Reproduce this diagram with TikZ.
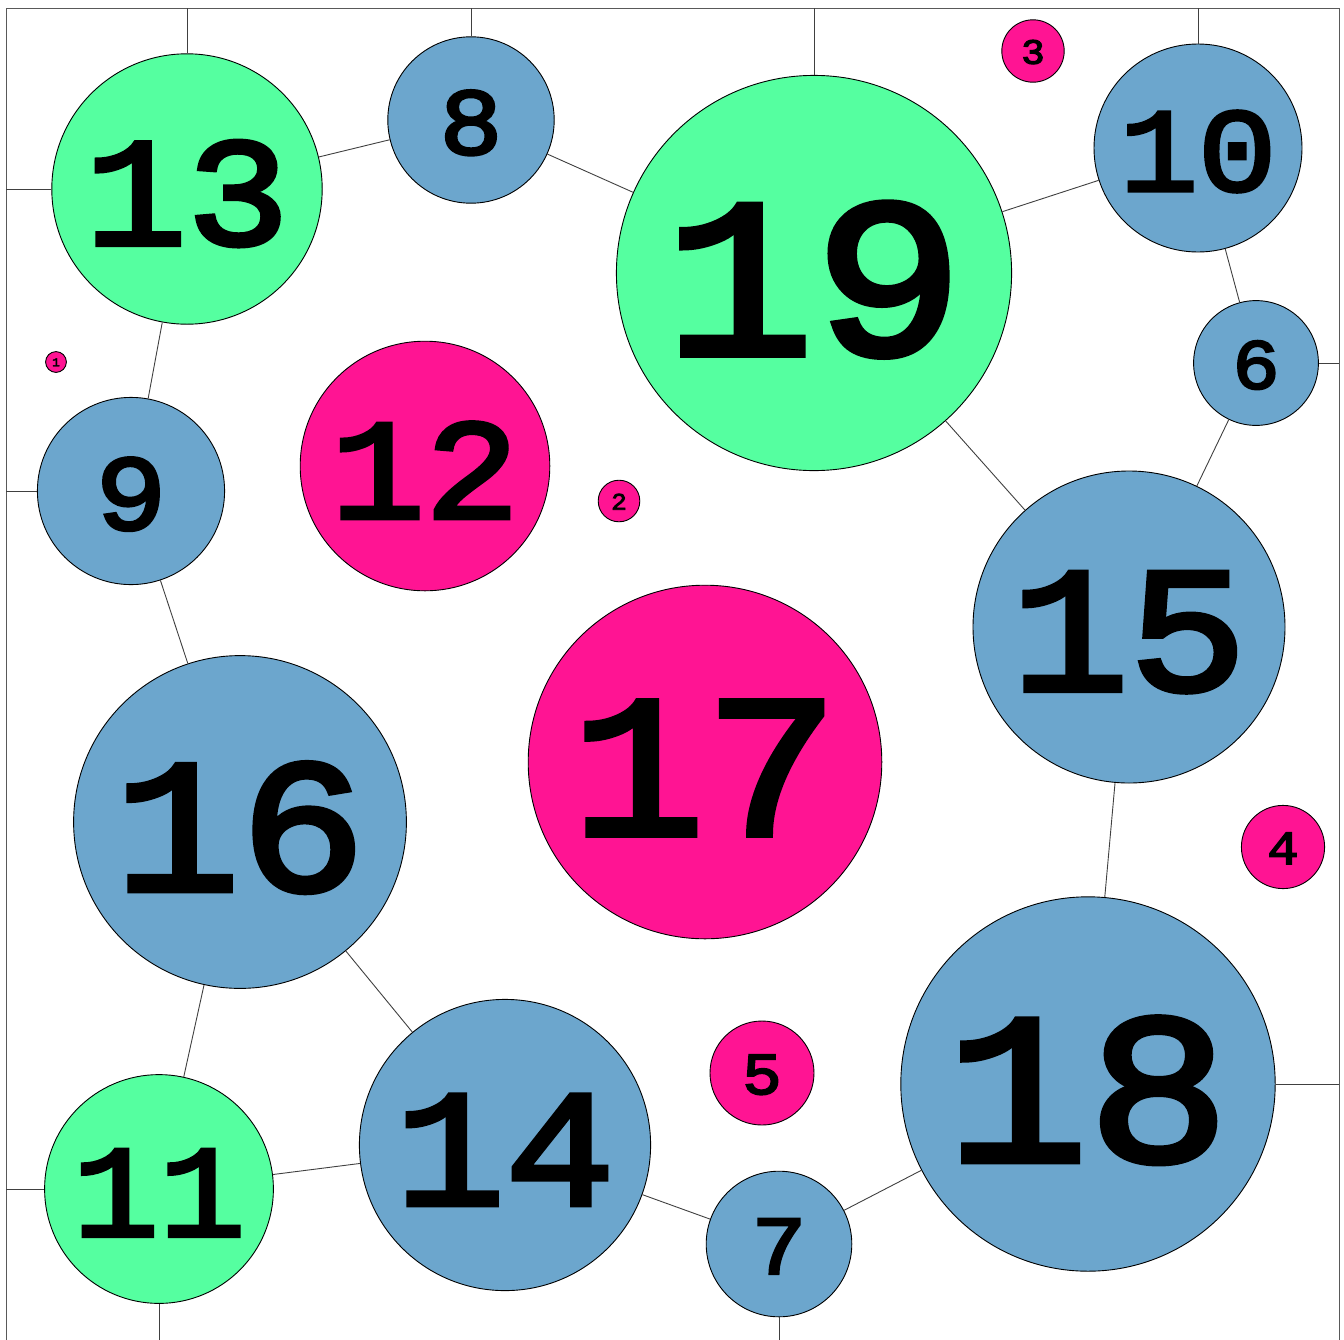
\documentclass[tikz,border=0pt]{standalone}
\usepackage{fontspec}
\newfontfamily\numfont[FakeBold=3.2,FakeStretch=1.1]{Liberation Mono}
\definecolor{cgreen}{RGB}{85,255,160}
\definecolor{cblue}{RGB}{108,166,205}
\definecolor{cpink}{RGB}{255,20,147}
\tikzset{
  bub/.style={circle, draw=black, line width=0.9pt, inner sep=0pt},
  numtxt/.style={inner sep=0pt, text=black},
  link/.style={draw=black!75, line width=0.9pt},
  frameline/.style={draw=black!65, line width=1pt}
}
\newcommand\bub[4]{%
  \pgfmathsetmacro\bubfs{11.9*#1}%
  \pgfmathsetmacro\bubrr{20.8*#1}%
  \pgfmathsetmacro\bubdy{#3+0.35*#1}%
  \node[bub, fill=#4, minimum size=\bubrr pt] (c#1) at (#2,#3) {};
  \node[numtxt, font=\numfont\mdseries\fontsize{\bubfs pt}{\bubfs pt}\selectfont] (t#1) at (#2,\bubdy) {#1};
}
\begin{document}
\begin{tikzpicture}[x=1pt,y=-1pt]
\useasboundingbox (0,0) rectangle (1344,1339);
% frame
\coordinate (fbl) at (6,1345);
\coordinate (ftl) at (6,8);
\coordinate (ftr) at (1339,8);
\coordinate (fbr) at (1339,1345);
\draw[frameline] (fbl) -- (ftl) -- (ftr) -- (fbr);
% bubbles
\bub{1}{56}{362}{cpink}
\bub{2}{619}{501}{cpink}
\bub{3}{1033}{51}{cpink}
\bub{4}{1283}{847}{cpink}
\bub{5}{762}{1073}{cpink}
\bub{6}{1256}{363}{cblue}
\bub{7}{779}{1244}{cblue}
\bub{8}{471}{120}{cblue}
\bub{9}{131}{491}{cblue}
\bub{10}{1198}{148}{cblue}
\bub{11}{159}{1189}{cgreen}
\bub{12}{425}{466}{cpink}
\bub{13}{187}{189}{cgreen}
\bub{14}{505}{1145}{cblue}
\bub{15}{1129}{627}{cblue}
\bub{16}{240}{822}{cblue}
\bub{17}{705}{762}{cpink}
\bub{18}{1088}{1084}{cblue}
\bub{19}{814}{273}{cgreen}
% links between bubbles
\draw[link] (c13) -- (c8);
\draw[link] (c8) -- (c19);
\draw[link] (c19) -- (c10);
\draw[link] (c10) -- (c6);
\draw[link] (c6) -- (c15);
\draw[link] (c19) -- (c15);
\draw[link] (c13) -- (c9);
\draw[link] (c9) -- (c16);
\draw[link] (c16) -- (c11);
\draw[link] (c16) -- (c14);
\draw[link] (c11) -- (c14);
\draw[link] (c14) -- (c7);
\draw[link] (c7) -- (c18);
\draw[link] (c18) -- (c15);
% links to frame
\coordinate (b13t) at (187,8);
\coordinate (b13l) at (6,189);
\coordinate (b8t) at (471,8);
\coordinate (b19t) at (814,8);
\coordinate (b10t) at (1198,8);
\coordinate (b6r) at (1339,363);
\coordinate (b9l) at (6,491);
\coordinate (b11l) at (6,1189);
\coordinate (b11b) at (159,1345);
\coordinate (b7b) at (779,1345);
\coordinate (b18r) at (1339,1084);
\draw[link] (c13) -- (b13t);
\draw[link] (c13) -- (b13l);
\draw[link] (c8) -- (b8t);
\draw[link] (c19) -- (b19t);
\draw[link] (c10) -- (b10t);
\draw[link] (c6) -- (b6r);
\draw[link] (c9) -- (b9l);
\draw[link] (c11) -- (b11l);
\draw[link] (c11) -- (b11b);
\draw[link] (c7) -- (b7b);
\draw[link] (c18) -- (b18r);
\end{tikzpicture}
\end{document}
